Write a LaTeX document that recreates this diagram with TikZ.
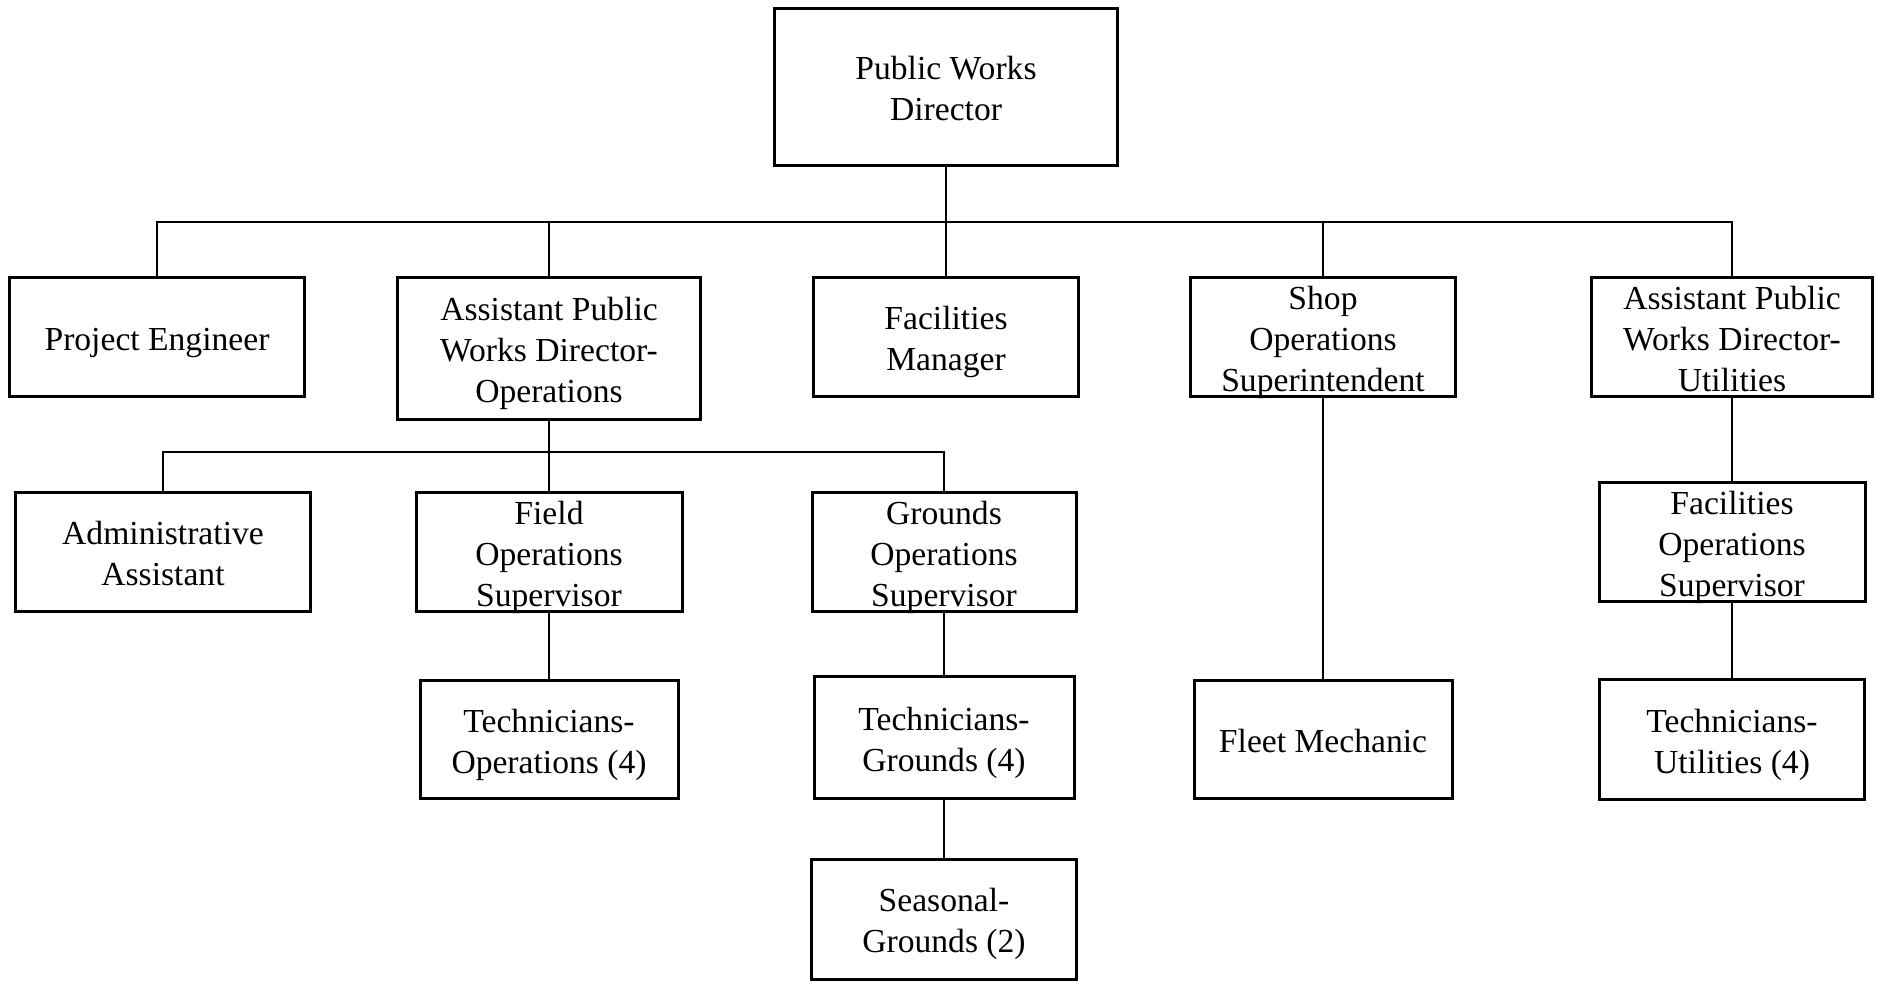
\documentclass[tikz,border=0pt]{standalone}
\usepackage{fontspec}
\setmainfont{Liberation Serif}
% centred lines, set slightly below the middle of the box without widening it
\newcommand\boxlines[1]{\raisebox{0pt}[\dimexpr\height-1pt\relax][\dimexpr\depth-6pt\relax]{\begin{tabular}{@{}c@{}}#1\end{tabular}}}
\begin{document}
\begin{tikzpicture}[x=0.5pt,y=-0.5pt,
  box/.style={draw=black, line width=1.5pt, inner sep=0pt,
    font=\fontsize{16.8pt}{20.5pt}\selectfont},
  conn/.style={draw=black, line width=0.8pt}]
\useasboundingbox (0,0) rectangle (1877,981);

% top level
\node[box, minimum width=171.5pt, minimum height=78.5pt] (pwd) at (946,87) {\boxlines{Public Works\\Director}};

% second level
\node[box, minimum width=147.5pt, minimum height=59.5pt] (pe)   at (157,337)   {\boxlines{Project Engineer}};
\node[box, minimum width=151.5pt, minimum height=71pt]   (apo)  at (549,348.5) {\boxlines{Assistant Public\\Works Director-\\Operations}};
\node[box, minimum width=132.5pt, minimum height=59.5pt] (fm)   at (946,337)   {\boxlines{Facilities\\Manager}};
\node[box, minimum width=132.5pt, minimum height=59.5pt] (shop) at (1323,337)  {\boxlines{Shop\\Operations\\Superintendent}};
\node[box, minimum width=140.5pt, minimum height=59.5pt] (apu)  at (1732,337)  {\boxlines{Assistant Public\\Works Director-\\Utilities}};

% third level
\node[box, minimum width=147.5pt, minimum height=59.5pt] (admin)   at (163,552)  {\boxlines{Administrative\\Assistant}};
\node[box, minimum width=133pt,   minimum height=59.5pt] (field)   at (549,552)  {\boxlines{Field\\Operations\\Supervisor}};
\node[box, minimum width=132pt,   minimum height=59.5pt] (grounds) at (944,552)  {\boxlines{Grounds\\Operations\\Supervisor}};
\node[box, minimum width=133pt,   minimum height=59.5pt] (facops)  at (1732,542) {\boxlines{Facilities\\Operations\\Supervisor}};

% fourth level
\node[box, minimum width=129pt,   minimum height=59pt] (techops)  at (549,739.5)  {\boxlines{Technicians-\\Operations (4)}};
\node[box, minimum width=130pt,   minimum height=61pt] (techgr)   at (944,737.5)  {\boxlines{Technicians-\\Grounds (4)}};
\node[box, minimum width=129pt,   minimum height=59pt] (fleet)    at (1323,739.5) {\boxlines{Fleet Mechanic}};
\node[box, minimum width=132.5pt, minimum height=60pt] (techutil) at (1732,739.5) {\boxlines{Technicians-\\Utilities (4)}};

% fifth level
\node[box, minimum width=132.5pt, minimum height=60pt] (seasonal) at (944,919) {\boxlines{Seasonal-\\Grounds (2)}};

% bus lines
\coordinate (b1) at (946,222);
\coordinate (b2) at (549,452);

% director to second level
\draw[conn] (pwd.south) -- (fm.north);
\draw[conn] (pe.north) |- (apu.north |- b1) -- (apu.north);
\draw[conn] (apo.north) -- (apo.north |- b1);
\draw[conn] (shop.north) -- (shop.north |- b1);

% operations branch
\draw[conn] (apo.south) -- (field.north);
\draw[conn] (admin.north) |- (grounds.north |- b2) -- (grounds.north);
\draw[conn] (field.south) -- (techops.north);
\draw[conn] (grounds.south) -- (techgr.north);
\draw[conn] (techgr.south) -- (seasonal.north);

% shop branch
\draw[conn] (shop.south) -- (fleet.north);

% utilities branch
\draw[conn] (apu.south) -- (facops.north);
\draw[conn] (facops.south) -- (techutil.north);
\end{tikzpicture}
\end{document}
